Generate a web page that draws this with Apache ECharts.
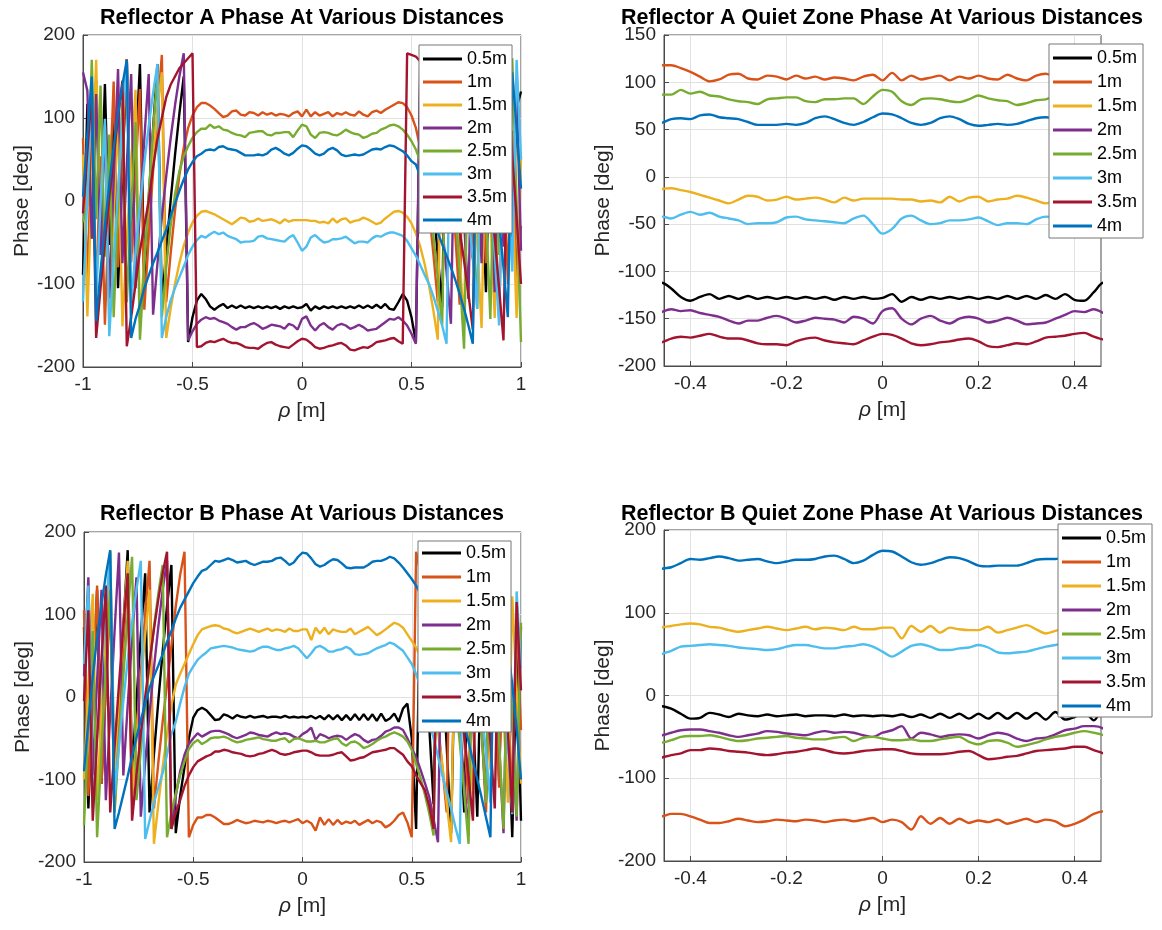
<!DOCTYPE html>
<html>
<head>
<meta charset="utf-8">
<script src="https://cdn.jsdelivr.net/npm/echarts@6/dist/echarts.min.js"></script>
<style>
  html, body { margin: 0; padding: 0; background: #ffffff; }
  #chart { width: 1162px; height: 930px; }
</style>
</head>
<body>
<div id="chart"></div>
<script>
// Radial sample positions across the aperture, metres (0.02 m spacing)
const rho = [];
for (let i = 0; i <= 100; i++) rho.push(Math.round((-1 + i * 0.02) * 100) / 100);

const distances = ['0.5m', '1m', '1.5m', '2m', '2.5m', '3m', '3.5m', '4m'];
const lineColors = ['#000000', '#D95319', '#EDB120', '#7E2F8E', '#77AC30', '#4DBEEE', '#A2142F', '#0072BD'];

// Reflector A: wrapped phase (deg) at each rho sample, one array per distance
const aPhase05 = [
  -89, 117, -45, 145, -33, 141, -53, 105, -105, 37, 171, -63, 55, 165, -93, 1, 87, 165, -125, -60, 0, 55, 105, 150, -170, -140, -120,
  -112, -118, -127, -131, -127, -124, -129, -126, -129, -126, -129, -127, -129, -127, -129, -127, -129, -127, -130, -127, -129, -127, -129, -128,
  -124, -132, -127, -130, -127, -129, -127, -129, -127, -129, -127, -129, -126, -129, -126, -129, -125, -129, -124, -130, -131, -122, -112,
  -120, -140, -170, 150, 102, 52, -5, -66, -128, 160, 84, -5, -97, 160, 52, -68, 165, 30, -110, 100, -58, 135, -38, 140, -50, 112, 132
];
const aPhase10 = [
  76, -99, 79, -110, 54, -149, 1, 144, -80, 49, 171, -74, 34, 135, -131, -44, 36, 109, 176, -122, -64, -12, 31, 64, 88, 103, 113,
  118, 118, 115, 111, 106, 101, 103, 108, 109, 104, 103, 107, 106, 103, 107, 104, 106, 103, 105, 104, 102, 106, 108, 102,
  110, 102, 107, 103, 105, 107, 102, 106, 104, 107, 104, 103, 108, 104, 102, 107, 109, 106, 110, 113, 116, 119, 118,
  113, 103, 88, 64, 31, -12, -64, -122, 176, 112, 40, -40, -125, 140, 38, -70, 175, 55, -75, 150, 8, -140, 60, -100, 85, -92, -30
];
const aPhase15 = [
  56, -139, 19, 170, -46, 91, -139, -16, 100, -151, -49, 46, 134, -145, -71, -4, 56, 109, 155, -165, -130, -100, -75, -54, -38, -26, -18,
  -13, -12, -14, -16, -19, -22, -25, -28, -24, -20, -21, -25, -24, -21, -24, -23, -22, -24, -27, -22, -25, -23, -23, -23,
  -23, -24, -24, -26, -25, -27, -21, -26, -22, -21, -26, -24, -23, -20, -22, -25, -28, -26, -21, -17, -13, -12, -14,
  -19, -27, -39, -55, -76, -102, -132, -167, 153, 107, 54, -6, -73, -147, 132, 44, -51, -153, 98, -18, -141, 89, -48, 168, 17, -141, 54
];
const aPhase20 = [
  155, 133, -45, 129, -65, 93, -117, 25, 159, -75, 43, 153, -105, -11, 75, 153, -137, -75, -20, 30, 75, 115, 150, 178, -168, -157, -148,
  -143, -140, -142, -141, -144, -146, -148, -152, -155, -152, -152, -149, -147, -150, -154, -152, -149, -150, -151, -154, -148, -150, -155, -142,
  -139, -150, -156, -150, -147, -152, -155, -150, -148, -150, -154, -152, -149, -152, -156, -155, -154, -150, -146, -142, -143, -140, -144,
  -150, -160, -172, 170, 142, 106, 64, 20, -30, -85, -148, 142, 62, -25, -118, 147, 40, -75, 162, 30, -110, 102, -55, 140, -35, 135, -60
];
const aPhase25 = [
  -25, -5, 170, -22, 139, -67, 80, -140, -7, 119, -122, -10, 95, -167, -76, 8, 85, 155, -140, -80, -30, 8, 36, 54, 66, 76, 83,
  87, 87, 92, 88, 90, 86, 85, 82, 80, 79, 77, 82, 83, 84, 84, 80, 79, 82, 82, 83, 83, 77, 85, 92,
  90, 80, 76, 82, 83, 82, 80, 79, 82, 86, 83, 81, 80, 76, 78, 81, 82, 86, 88, 91, 92, 90, 86,
  80, 72, 62, 48, 28, -2, -42, -92, -150, 145, 72, -6, -88, -178, 88, -18, -130, 112, -12, -142, 80, -65, 145, -14, 172, -2, -170
];
const aPhase30 = [
  -121, 7, 129, -115, -5, 99, -163, -71, 15, 95, 169, -123, -61, -5, 45, 90, 130, 165, -165, -140, -120, -105, -92, -79, -65, -55, -47,
  -42, -44, -40, -37, -40, -38, -42, -44, -46, -50, -49, -49, -48, -43, -42, -45, -46, -47, -48, -49, -44, -41, -50, -60,
  -55, -44, -41, -46, -50, -49, -46, -46, -45, -43, -47, -51, -49, -49, -50, -45, -42, -43, -40, -38, -38, -40, -42,
  -48, -57, -66, -77, -89, -100, -115, -132, -150, -172, 158, 122, 80, 35, -15, -70, -130, 167, 95, 18, -64, -150, 117, 20, -85, 170, 50
];
const aPhase35 = [
  -15, 60, 130, -165, -105, -50, 5, 55, 100, 145, -175, -140, -100, -60, -30, 0, 40, 75, 100, 125, 140, 150, 160, 166, 172, 178, -176,
  -175, -171, -169, -170, -168, -166, -169, -171, -171, -173, -176, -177, -177, -178, -174, -171, -170, -173, -175, -176, -177, -173, -169, -166,
  -167, -171, -176, -178, -177, -175, -174, -172, -171, -174, -179, -180, -178, -176, -177, -174, -170, -169, -168, -166, -165, -169, -172,
  178, 176, 174, 168, 160, 150, 137, 120, 98, 70, 38, 2, -35, -72, -112, -155, 160, 115, 65, 12, -45, -105, -168, 125, 55, -20, -100
];
const aPhase40 = [
  5, 80, 150, -145, -85, -30, 20, 65, 105, 140, 170, -165, -142, -125, -105, -90, -75, -62, -48, -35, -18, -3, 12, 26, 38, 47, 54,
  57, 61, 62, 61, 65, 66, 63, 62, 61, 58, 55, 55, 55, 56, 55, 57, 62, 64, 61, 57, 55, 58, 63, 67,
  66, 62, 57, 55, 57, 62, 64, 61, 56, 54, 55, 56, 55, 56, 59, 62, 63, 62, 65, 67, 66, 63, 60,
  55, 48, 44, 30, 14, -4, -22, -38, -52, -66, -80, -95, -112, -130, -150, -172, 165, 138, 105, 68, 25, -25, -80, -140, 155, 88, 15
];

// Reflector B: wrapped phase (deg) at each rho sample, one array per distance
const bPhase05 = [
  85, -135, 0, 130, -105, 15, 130, -120, -15, 85, 178, -90, -5, 75, 150, -140, -70, -5, 55, 110, 160, -165, -120, -85, -50, -25, -16,
  -13, -16, -22, -28, -27, -21, -23, -26, -22, -24, -25, -23, -25, -24, -23, -25, -24, -24, -25, -23, -25, -24, -25, -24,
  -25, -23, -26, -23, -27, -22, -27, -22, -28, -22, -28, -21, -28, -21, -28, -21, -29, -20, -29, -26, -20, -30, -14,
  -8, -50, -160, 150, 60, -35, -130, 135, 40, -60, -165, 85, -25, -140, 100, -20, -145, 90, -40, 175, 40, -100, 120, -25, -170, 50, -150
];
const bPhase10 = [
  105, -120, 10, 135, -105, 10, 118, -135, -35, 60, 150, -125, -45, 30, 100, 165, -135, -80, -30, 15, 62, 110, 148, 176, -170, -155, -146,
  -146, -143, -143, -146, -150, -154, -154, -152, -149, -151, -153, -152, -150, -151, -152, -150, -151, -153, -151, -150, -152, -150, -148, -153,
  -150, -153, -162, -146, -155, -148, -155, -149, -154, -151, -153, -150, -155, -152, -149, -153, -150, -152, -158, -155, -150, -143, -140,
  -152, -170, 176, 150, 112, 65, 18, -32, -85, -140, 160, 95, 25, -50, -130, 145, 55, -40, -140, 113, 5, -110, 130, 5, -125, 100, -40
];
const bPhase15 = [
  -100, 15, 125, -125, -20, 80, 178, -90, 0, 85, 165, -120, -50, 15, 75, 130, -178, -130, -85, -45, -10, 15, 28, 40, 52, 64, 75,
  82, 84, 86, 87, 86, 83, 82, 79, 77, 79, 81, 83, 81, 79, 81, 83, 80, 82, 81, 79, 83, 80, 80, 82,
  82, 69, 84, 77, 84, 76, 82, 80, 79, 79, 83, 76, 79, 82, 85, 80, 75, 78, 82, 86, 90, 88, 84,
  76, 68, 60, 48, 35, 18, -8, -42, -82, -128, -176, 132, 78, 18, -48, -118, 168, 88, 3, -88, 178, 80, -22, -128, 122, 10, -105
];
const bPhase20 = [
  25, 145, -95, 20, 130, -125, -20, 80, 175, -95, -10, 70, 145, -145, -80, -20, 35, 85, 130, 165, -160, -120, -90, -70, -57, -50, -44,
  -48, -45, -42, -41, -41, -43, -45, -48, -50, -48, -46, -43, -44, -46, -47, -48, -45, -43, -45, -44, -45, -48, -50, -45,
  -42, -37, -52, -45, -47, -50, -48, -47, -48, -52, -48, -45, -47, -52, -55, -52, -51, -47, -42, -40, -37, -37, -40,
  -50, -62, -73, -88, -104, -121, -148, -176, 150, 112, 68, 18, -38, -100, -168, 122, 45, -38, -125, 142, 45, -58, -165, 85, -30, -150, 85
];
const bPhase25 = [
  -155, -35, 80, -170, -65, 35, 130, -140, -55, 25, 100, 170, -125, -65, -10, 40, 85, 125, 160, -170, -140, -117, -95, -78, -63, -56, -52,
  -57, -54, -50, -49, -49, -48, -50, -53, -55, -54, -52, -51, -50, -49, -51, -52, -53, -53, -51, -50, -55, -51, -50, -52,
  -54, -54, -53, -55, -55, -53, -51, -50, -56, -59, -55, -54, -57, -62, -60, -57, -53, -50, -48, -45, -43, -45, -48,
  -54, -64, -81, -98, -118, -141, -168, 165, 132, 92, 48, -2, -56, -115, -178, 112, 38, -42, -128, 140, 45, -55, -160, 88, -25, -145, 90
];
const bPhase30 = [
  40, 135, -135, -50, 30, 105, 175, -120, -60, -5, 45, 90, 130, 165, -172, -150, -128, -110, -92, -70, -45, -30, -8, 12, 28, 37, 45,
  50, 54, 59, 60, 61, 62, 61, 60, 58, 57, 56, 55, 56, 59, 61, 61, 59, 57, 57, 59, 60, 62, 59, 53,
  47, 53, 60, 62, 59, 55, 55, 57, 58, 61, 58, 52, 51, 52, 53, 56, 59, 61, 63, 66, 64, 60, 56,
  48, 40, 28, 12, -10, -32, -50, -72, -95, -115, -135, -158, -178, 158, 122, 82, 36, -14, -68, -128, 168, 98, 22, -58, -142, 128, 35
];
const bPhase35 = [
  -5, 105, -150, -50, 45, 135, -140, -60, 15, 85, 150, -150, -95, -45, 0, 42, 82, 118, 150, 176, -160, -140, -125, -108, -95, -85, -78,
  -75, -72, -70, -66, -66, -64, -65, -67, -68, -69, -71, -72, -71, -69, -68, -66, -64, -66, -69, -70, -69, -67, -66, -65,
  -65, -67, -70, -71, -71, -71, -70, -68, -67, -72, -77, -76, -74, -73, -70, -67, -66, -65, -64, -62, -62, -66, -70,
  -78, -84, -95, -104, -113, -132, -160, 175, 150, 120, 85, 45, 2, -45, -96, -150, 150, 86, 18, -55, -135, 140, 52, -42, -140, 115, 8
];
const bPhase40 = [
  -90, -30, 25, 72, 112, 148, 178, -160, -140, -118, -96, -72, -49, -28, -8, 11, 25, 38, 52, 67, 80, 95, 108, 118, 128, 138, 146,
  153, 155, 160, 165, 164, 166, 168, 166, 163, 164, 165, 162, 160, 162, 164, 164, 165, 168, 169, 165, 160, 163, 170, 175,
  174, 168, 161, 158, 160, 164, 167, 166, 162, 157, 156, 157, 157, 157, 160, 164, 165, 165, 167, 170, 168, 163, 157,
  150, 143, 135, 125, 112, 98, 84, 70, 56, 42, 26, 8, -12, -32, -54, -78, -100, -122, -146, -170, 165, 135, 100, 60, 15, -38, -100
];

const phaseA = [aPhase05, aPhase10, aPhase15, aPhase20, aPhase25, aPhase30, aPhase35, aPhase40];
const phaseB = [bPhase05, bPhase10, bPhase15, bPhase20, bPhase25, bPhase30, bPhase35, bPhase40];

const panelTitles = [
  'Reflector A Phase At Various Distances',
  'Reflector A Quiet Zone Phase At Various Distances',
  'Reflector B Phase At Various Distances',
  'Reflector B Quiet Zone Phase At Various Distances'
];
const fullRhoTicks = [-1, -0.5, 0, 0.5, 1];
const quietRhoTicks = [-0.4, -0.2, 0, 0.2, 0.4];

const FONT = '"Liberation Sans", Arial, Helvetica, sans-serif';
const AXIS_COLOR = '#4a4a4a';
const LABEL_COLOR = '#262626';

const grids = [
  { left: 83, top: 35, width: 438, height: 332 },
  { left: 664, top: 35, width: 437, height: 331 },
  { left: 84, top: 532, width: 437, height: 330 },
  { left: 664, top: 530, width: 437, height: 331 }
].map(g => Object.assign(g, {
  show: true, borderColor: AXIS_COLOR, borderWidth: 1,
  backgroundColor: 'transparent', containLabel: false, outerBoundsMode: 'none'
}));

function axisBase() {
  return {
    axisLine: { show: true, onZero: false, lineStyle: { color: AXIS_COLOR, width: 1 } },
    axisTick: { show: true, inside: true, length: 5, lineStyle: { color: AXIS_COLOR, width: 1 } },
    axisLabel: { color: LABEL_COLOR, fontSize: 19, fontFamily: FONT, margin: 8 },
    splitLine: { show: true, lineStyle: { color: '#e1e1e1', width: 1 } },
    nameLocation: 'middle',
    nameMoveOverlap: false,
    nameTextStyle: {
      color: LABEL_COLOR, fontSize: 21, fontFamily: FONT,
      rich: { i: { fontStyle: 'italic', fontSize: 21, fontFamily: FONT, color: LABEL_COLOR } }
    }
  };
}

function rhoAxis(gridIndex, quiet) {
  const ax = Object.assign(axisBase(), {
    gridIndex, type: 'value', name: '{i|ρ} [m]', nameGap: 34
  });
  if (quiet) {
    ax.min = -0.455; ax.max = 0.455;
    ax.axisLabel.customValues = quietRhoTicks;
    ax.axisTick.customValues = quietRhoTicks;
  } else {
    ax.min = -1; ax.max = 1; ax.interval = 0.5;
    ax.axisLabel.customValues = fullRhoTicks;
    ax.axisTick.customValues = fullRhoTicks;
  }
  return ax;
}

function phaseAxis(gridIndex, min, max, interval) {
  return Object.assign(axisBase(), {
    gridIndex, type: 'value', min, max, interval, name: 'Phase [deg]', nameGap: 50
  });
}

function panelSeries(phases, idx, smooth) {
  return phases.map((vals, k) => ({
    name: distances[k],
    type: 'line',
    xAxisIndex: idx,
    yAxisIndex: idx,
    data: rho.map((r, i) => [r, vals[i]]),
    symbol: 'none',
    showSymbol: false,
    smooth: smooth,
    clip: true,
    lineStyle: { color: lineColors[k], width: 2.4 },
    itemStyle: { color: lineColors[k] },
    emphasis: { disabled: true },
    z: 2 + k * 0.01
  }));
}

function legendAt(left, top, padding, itemGap) {
  return {
    data: distances,
    orient: 'vertical',
    left, top, padding, itemGap,
    icon: 'rect',
    itemWidth: 39,
    itemHeight: 3,
    backgroundColor: '#ffffff',
    borderColor: '#767676',
    borderWidth: 1,
    borderRadius: 0,
    selectedMode: false,
    textStyle: { color: '#000000', fontSize: 18, fontFamily: FONT, lineHeight: 18 }
  };
}

function titleAt(text, centerX, top) {
  return {
    text, left: centerX, top, textAlign: 'center', padding: 0,
    textStyle: { color: '#000000', fontSize: 21.5, fontWeight: 'bold', fontFamily: FONT }
  };
}

const option = {
  animation: false,
  backgroundColor: '#ffffff',
  title: [
    titleAt(panelTitles[0], 302, 7),
    titleAt(panelTitles[1], 882, 7),
    titleAt(panelTitles[2], 302, 503),
    titleAt(panelTitles[3], 882, 503)
  ],
  legend: [
    legendAt(419, 45, [5, 5, 4, 4], 5),
    legendAt(1049, 44, [5, 6, 3, 4], 6),
    legendAt(418, 541, [3, 5, 2, 4], 6),
    legendAt(1058, 524, [5, 6, 2, 4], 6)
  ],
  grid: grids,
  xAxis: [rhoAxis(0, false), rhoAxis(1, true), rhoAxis(2, false), rhoAxis(3, true)],
  yAxis: [
    phaseAxis(0, -200, 200, 100),
    phaseAxis(1, -200, 150, 50),
    phaseAxis(2, -200, 200, 100),
    phaseAxis(3, -200, 200, 100)
  ],
  series: [].concat(
    panelSeries(phaseA, 0, false),
    panelSeries(phaseA, 1, 0.3),
    panelSeries(phaseB, 2, false),
    panelSeries(phaseB, 3, 0.3)
  )
};

const chart = echarts.init(document.getElementById('chart'), null, { renderer: 'canvas' });
chart.setOption(option);
</script>
</body>
</html>
